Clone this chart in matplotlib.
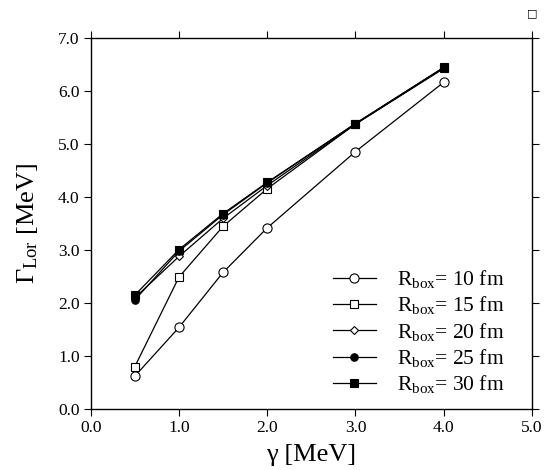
import matplotlib
matplotlib.use("Agg")
import matplotlib.pyplot as plt

plt.rcParams['font.family'] = ['Liberation Serif', 'DejaVu Serif']
plt.rcParams['mathtext.fontset'] = 'custom'
plt.rcParams['mathtext.rm'] = 'Liberation Serif'
plt.rcParams['mathtext.it'] = 'Liberation Serif:italic'

gamma = [0.5, 1.0, 1.5, 2.0, 3.0, 4.0]
r10 = [0.62, 1.54, 2.58, 3.42, 4.86, 6.17]
r15 = [0.80, 2.49, 3.45, 4.16, 5.38, 6.43]
r20 = [2.10, 2.88, 3.60, 4.22, 5.38, 6.44]
r25 = [2.06, 2.98, 3.67, 4.27, 5.39, 6.45]
r30 = [2.15, 3.01, 3.69, 4.28, 5.39, 6.45]
labels = ["10", "15", "20", "25", "30"]
xticks = [0.0, 1.0, 2.0, 3.0, 4.0, 5.0]
yticks = [0.0, 1.0, 2.0, 3.0, 4.0, 5.0, 6.0, 7.0]

fig = plt.figure(figsize=(5.53, 4.70), dpi=100)
ax = fig.add_axes([0.164, 0.1298, 0.798, 0.7887])

styles = [
    dict(marker='o', mfc='white', ms=6.6),
    dict(marker='s', mfc='white', ms=5.3),
    dict(marker='D', mfc='white', ms=4.2),
    dict(marker='o', mfc='black', ms=5.4),
    dict(marker='s', mfc='black', ms=5.8),
]
for ys, lab, st in zip([r10, r15, r20, r25, r30], labels, styles):
    ax.plot(gamma, ys, color='black', lw=0.9, mec='black', mew=0.8,
            label=r"R$_{\rm box}$= " + lab + " fm", **st)

ax.set_xlim(0, 5)
ax.set_ylim(0, 7)
ax.set_xticks(xticks)
ax.set_yticks(yticks)
ax.set_xticklabels([f"{v:.1f}" for v in xticks])
ax.set_yticklabels([f"{v:.1f}" for v in yticks])
ax.tick_params(direction='out', length=5, width=0.8, labelsize=12.5,
               top=True, right=True, pad=3)
for s in ax.spines.values():
    s.set_linewidth(1.0)
ax.set_xlabel("γ [MeV]", fontsize=19, labelpad=6)
ax.set_ylabel(r"Γ$_{\rm Lor}$ [MeV]", fontsize=19, labelpad=13)

leg = ax.legend(loc='lower right', frameon=False, fontsize=15.5,
                handlelength=2.0, handletextpad=1.0, labelspacing=0.2,
                bbox_to_anchor=(0.958, 0.0135), borderaxespad=0.0)

fig.text(0.962, 0.972, "□", fontsize=8, ha='center', va='center',
         family=['DejaVu Sans'])

fig.savefig("out.png", dpi=100)
